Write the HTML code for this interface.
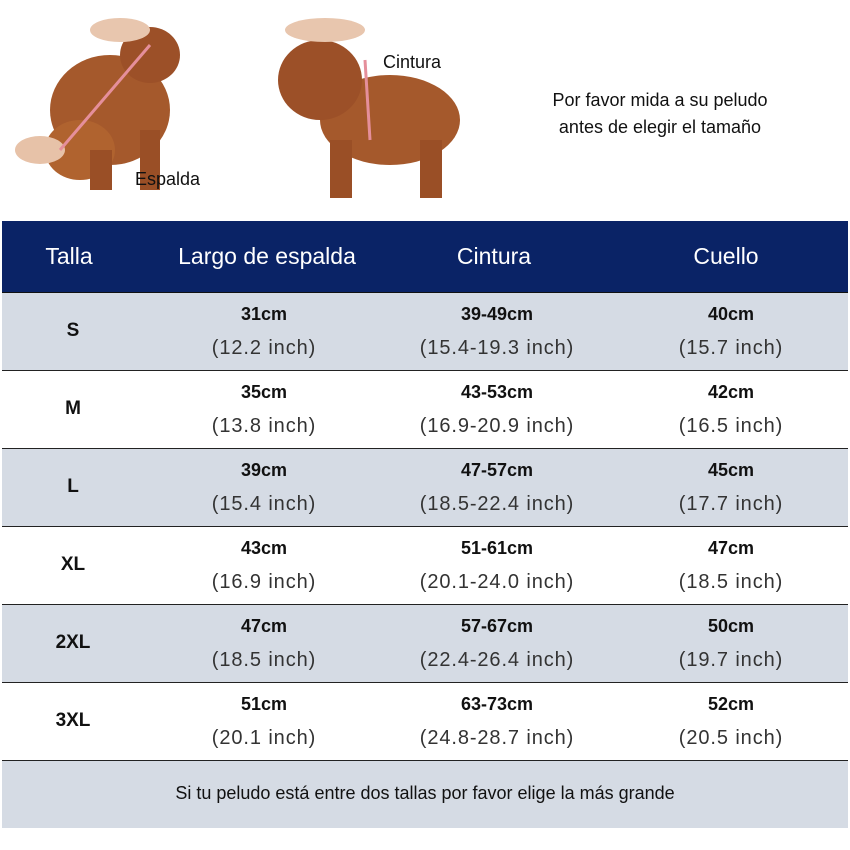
<!DOCTYPE html>
<html><head><meta charset="utf-8"><style>
body{margin:0;width:850px;height:850px;background:#fff;position:relative;overflow:hidden;font-family:"Liberation Sans",sans-serif}
.a{position:absolute}
.hdr{left:2px;top:221px;width:846px;height:71px;background:#0a2366;border-bottom:1px solid #111}
.h{position:absolute;top:22px;color:#fff;font-size:23px;transform:translateX(-50%);white-space:nowrap}
.row{position:absolute;left:2px;width:846px;height:77px;border-bottom:1px solid #222}
.g{background:#d5dbe4}
.c{position:absolute;transform:translateX(-50%);text-align:center;white-space:nowrap;color:#111}
.c b{display:block;font-size:18px;line-height:22px;margin-top:10px}
.c span{display:block;font-size:20px;line-height:26px;color:#333;margin-top:10px;letter-spacing:0.9px}
.t{position:absolute;left:71px;transform:translateX(-50%);top:27px;font-weight:bold;font-size:19px;color:#111}
</style></head><body>
<svg class="a" style="left:0;top:0" width="520" height="210">
<ellipse cx="110" cy="110" rx="60" ry="55" fill="#a5592c"/>
<ellipse cx="150" cy="55" rx="30" ry="28" fill="#9c5028"/>
<ellipse cx="80" cy="150" rx="35" ry="30" fill="#b0632f"/>
<rect x="140" y="130" width="20" height="60" fill="#9a4f26"/>
<rect x="90" y="150" width="22" height="40" fill="#9a4f26"/>
<ellipse cx="40" cy="150" rx="25" ry="14" fill="#e7c2a8"/>
<ellipse cx="120" cy="30" rx="30" ry="12" fill="#e8c6ae"/>
<line x1="60" y1="150" x2="150" y2="45" stroke="#e58f9b" stroke-width="3"/>
<ellipse cx="390" cy="120" rx="70" ry="45" fill="#a5592c"/>
<ellipse cx="320" cy="80" rx="42" ry="40" fill="#9c5028"/>
<rect x="330" y="140" width="22" height="58" fill="#9a4f26"/>
<rect x="420" y="140" width="22" height="58" fill="#9a4f26"/>
<ellipse cx="325" cy="30" rx="40" ry="12" fill="#e8c6ae"/>
<line x1="365" y1="60" x2="370" y2="140" stroke="#e58f9b" stroke-width="3"/>
</svg>
<div class="a" style="left:135px;top:169px;font-size:18px;color:#111">Espalda</div>
<div class="a" style="left:383px;top:52px;font-size:18px;color:#111">Cintura</div>
<div class="a" style="left:535px;top:87px;width:250px;text-align:center;font-size:18px;line-height:27px;color:#111">Por favor mida a su peludo antes de elegir el tamaño</div>
<div class="a hdr">
<div class="h" style="left:67px">Talla</div><div class="h" style="left:265px">Largo de espalda</div><div class="h" style="left:492px">Cintura</div><div class="h" style="left:724px">Cuello</div>
</div>
<div class="row g" style="top:293px"><div class="t">S</div><div class="c" style="left:262px"><b>31cm</b><span>(12.2 inch)</span></div><div class="c" style="left:495px"><b>39-49cm</b><span>(15.4-19.3 inch)</span></div><div class="c" style="left:729px"><b>40cm</b><span>(15.7 inch)</span></div></div>
<div class="row" style="top:371px"><div class="t">M</div><div class="c" style="left:262px"><b>35cm</b><span>(13.8 inch)</span></div><div class="c" style="left:495px"><b>43-53cm</b><span>(16.9-20.9 inch)</span></div><div class="c" style="left:729px"><b>42cm</b><span>(16.5 inch)</span></div></div>
<div class="row g" style="top:449px"><div class="t">L</div><div class="c" style="left:262px"><b>39cm</b><span>(15.4 inch)</span></div><div class="c" style="left:495px"><b>47-57cm</b><span>(18.5-22.4 inch)</span></div><div class="c" style="left:729px"><b>45cm</b><span>(17.7 inch)</span></div></div>
<div class="row" style="top:527px"><div class="t">XL</div><div class="c" style="left:262px"><b>43cm</b><span>(16.9 inch)</span></div><div class="c" style="left:495px"><b>51-61cm</b><span>(20.1-24.0 inch)</span></div><div class="c" style="left:729px"><b>47cm</b><span>(18.5 inch)</span></div></div>
<div class="row g" style="top:605px"><div class="t">2XL</div><div class="c" style="left:262px"><b>47cm</b><span>(18.5 inch)</span></div><div class="c" style="left:495px"><b>57-67cm</b><span>(22.4-26.4 inch)</span></div><div class="c" style="left:729px"><b>50cm</b><span>(19.7 inch)</span></div></div>
<div class="row" style="top:683px"><div class="t">3XL</div><div class="c" style="left:262px"><b>51cm</b><span>(20.1 inch)</span></div><div class="c" style="left:495px"><b>63-73cm</b><span>(24.8-28.7 inch)</span></div><div class="c" style="left:729px"><b>52cm</b><span>(20.5 inch)</span></div></div>
<div class="a g" style="left:2px;top:761px;width:846px;height:67px"><div style="text-align:center;margin-top:22px;font-size:18px;color:#111">Si tu peludo está entre dos tallas por favor elige la más grande</div></div>
</body></html>
